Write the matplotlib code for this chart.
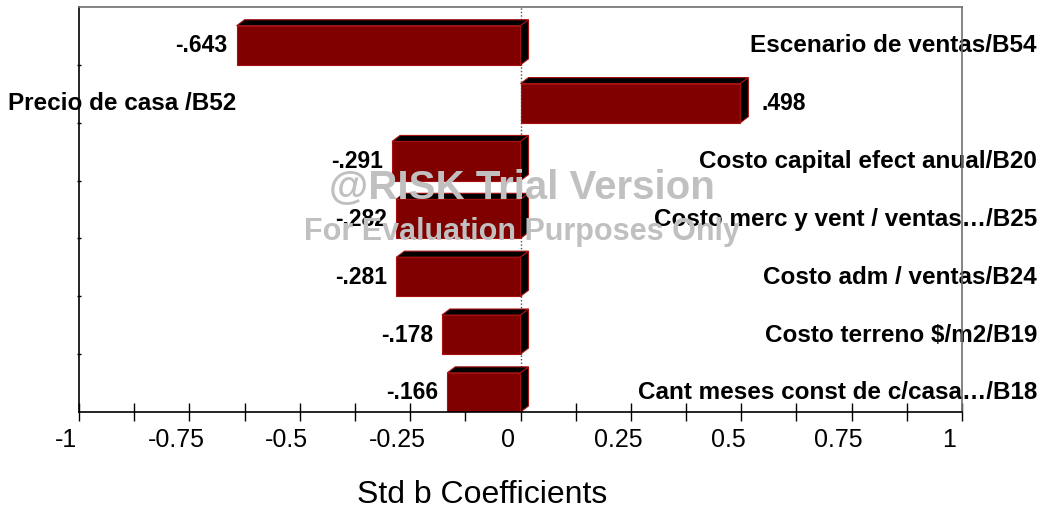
import matplotlib
matplotlib.use("Agg")
import matplotlib.pyplot as plt
import matplotlib.transforms as mtransforms
from matplotlib.patches import Polygon

plt.rcParams['font.family'] = ['Liberation Sans', 'DejaVu Sans']

# ---------------- data ----------------
names = [
    "Escenario de ventas/B54",
    "Precio de casa /B52",
    "Costo capital efect anual/B20",
    "Costo merc y vent / ventas\u2026/B25",
    "Costo adm / ventas/B24",
    "Costo terreno $/m2/B19",
    "Cant meses const de c/casa\u2026/B18",
]
values = [-0.643, 0.498, -0.291, -0.282, -0.281, -0.178, -0.166]
major_ticks = [-1, -0.75, -0.5, -0.25, 0, 0.25, 0.5, 0.75, 1]
tick_labels = ["-1", "-0.75", "-0.5", "-0.25", "0", "0.25", "0.5", "0.75", "1"]
minor_ticks = [-0.875, -0.625, -0.375, -0.125, 0.125, 0.375, 0.625, 0.875]
xlabel = "Std b Coefficients"

# ---------------- style ----------------
W, H, DPI = 1042, 510, 100
fig = plt.figure(figsize=(W / DPI, H / DPI), dpi=DPI)
ax = fig.add_axes([79 / W, 97 / H, (962 - 79) / W, (413 - 8) / H])

n = len(values)
ax.set_xlim(-1, 1)
ax.set_ylim(n, 0)

front = '#800000'
edge = '#a81010'
bar_h = 0.676
dx = 8 / 441.5      # depth offset in data units (x)
dy = 6 / 57.67      # depth offset in data units (rows)

for i, v in enumerate(values):
    bottom = i + 1
    top = bottom - bar_h
    x0, x1 = min(v, 0), max(v, 0)
    ax.barh(bottom - bar_h / 2, v, height=bar_h, left=0, color=front,
            edgecolor=edge, linewidth=0.8, zorder=3)
    top_face = Polygon([(x0, top), (x1, top), (x1 + dx, top - dy), (x0 + dx, top - dy)],
                       closed=True, facecolor='black', edgecolor=edge, linewidth=0.8, zorder=3)
    side_face = Polygon([(x1, top), (x1 + dx, top - dy), (x1 + dx, bottom - dy), (x1, bottom)],
                        closed=True, facecolor='black', edgecolor=edge, linewidth=0.8, zorder=3)
    ax.add_patch(top_face)
    ax.add_patch(side_face)

    yc = bottom - bar_h / 2
    lab = ("-" if v < 0 else "") + ("%.3f" % abs(v)).lstrip("0")
    btr = mtransforms.blended_transform_factory(fig.transFigure, ax.transData)
    btr = mtransforms.offset_copy(btr, fig=fig, x=0, y=-6, units='dots')
    if v < 0:
        tr = mtransforms.offset_copy(ax.transData, fig=fig, x=-9, y=-6, units='dots')
        ax.text(v, yc, lab, transform=tr, ha='right', va='baseline',
                fontsize=16.5, fontweight='bold', zorder=5, clip_on=False)
        ax.text(1037 / W, yc, names[i], transform=btr, ha='right', va='baseline',
                fontsize=17.5, fontweight='bold', zorder=2, clip_on=False)
    else:
        tr = mtransforms.offset_copy(ax.transData, fig=fig, x=21, y=-6, units='dots')
        ax.text(v, yc, lab, transform=tr, ha='left', va='baseline',
                fontsize=16.5, fontweight='bold', zorder=5, clip_on=False)
        ax.text(8 / W, yc, names[i], transform=btr, ha='left', va='baseline',
                fontsize=17.5, fontweight='bold', zorder=2, clip_on=False)

# zero line
ax.axvline(0, color='#505050', linestyle=(0, (1, 1.5)), linewidth=1, zorder=1)

# spines
for s in ['left', 'bottom']:
    ax.spines[s].set_color('black')
    ax.spines[s].set_linewidth(1.2)
for s in ['top', 'right']:
    ax.spines[s].set_color('#707070')
    ax.spines[s].set_linewidth(1.2)
for s in ax.spines.values():
    s.set_zorder(6)

# ticks
ax.set_xticks(major_ticks)
ax.set_xticklabels(tick_labels)
ax.set_xticks(minor_ticks, minor=True)
ax.tick_params(axis='x', which='both', direction='inout', length=13.5, width=1,
               labelsize=18, pad=4)
offset = mtransforms.ScaledTranslation(-13 / DPI, 0, fig.dpi_scale_trans)
for lbl in ax.get_xticklabels():
    lbl.set_transform(lbl.get_transform() + offset)

ax.set_yticks(list(range(1, n)))
ax.set_yticklabels([])
ax.tick_params(axis='y', direction='inout', length=3.5, width=1)

fig.text(482 / W, 1 - 495 / H, xlabel, ha='center', va='center', fontsize=23)

# watermark
fig.text(522 / W, 1 - 188 / H, "@RISK Trial Version", ha='center', va='center',
         fontsize=29, fontweight='bold', color='#c0c0c0', zorder=10)
fig.text(522 / W, 1 - 232 / H, "For Evaluation Purposes Only", ha='center', va='center',
         fontsize=22, fontweight='bold', color='#c0c0c0', zorder=10)

fig.savefig("out.png", dpi=DPI)
